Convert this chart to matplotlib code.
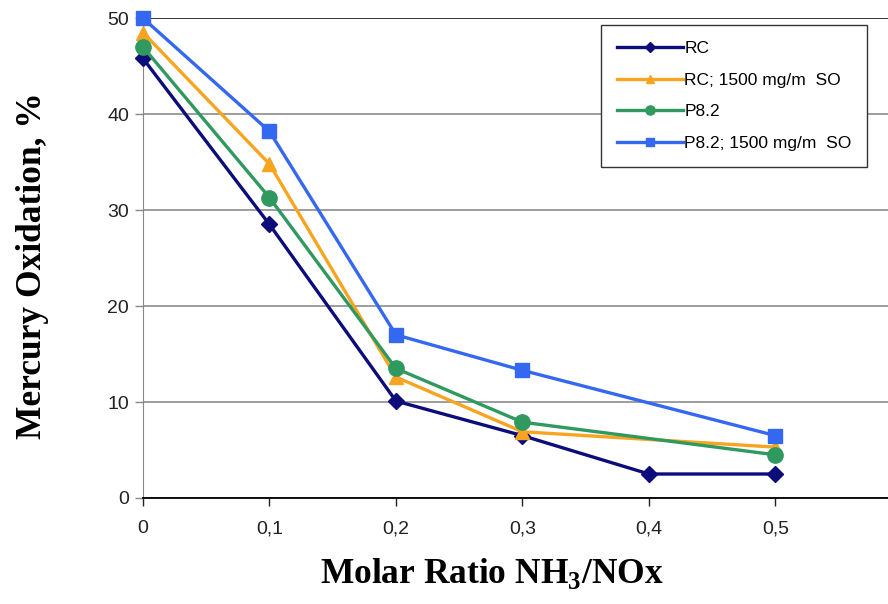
import matplotlib
matplotlib.use("Agg")
import matplotlib.pyplot as plt
import numpy as np

# NH3/NOx molar ratio (category positions)
ratio = [0.0, 0.1, 0.2, 0.3, 0.4, 0.5]
tick_labels = ["0", "0,1", "0,2", "0,3", "0,4", "0,5"]

# mercury oxidation, % (nan = no point, line joins neighbours)
rc = [45.8, 28.5, 10.1, 6.5, 2.5, 2.5]
rc_so2 = [48.5, 34.8, 12.6, 6.9, np.nan, 5.3]
p82 = [47.0, 31.3, 13.5, 7.9, np.nan, 4.5]
p82_so2 = [50.0, 38.2, 17.0, 13.3, np.nan, 6.5]

series = [
    ("RC", rc, "#0c0c7a", "D", 8),
    ("RC; 1500 mg/m  SO", rc_so2, "#f7a520", "^", 10),
    ("P8.2", p82, "#2f9960", "o", 11),
    ("P8.2; 1500 mg/m  SO", p82_so2, "#3468f0", "s", 9.5),
]

plt.rcParams["font.family"] = ["Liberation Sans", "DejaVu Sans"]
plt.rcParams["mathtext.fontset"] = "custom"
plt.rcParams["mathtext.rm"] = "Liberation Serif"
plt.rcParams["mathtext.bf"] = "Liberation Serif:bold"

fig = plt.figure(figsize=(8.88, 6.04), dpi=100)
ax = fig.add_axes([0.161, 0.1755, 0.839, 0.7945])

x = np.array(ratio)
for name, vals, color, marker, ms in series:
    v = np.array(vals, dtype=float)
    ok = ~np.isnan(v)
    ax.plot(x[ok], v[ok], color=color, lw=2.4, marker=marker, ms=ms,
            markeredgecolor=color, label=name, clip_on=False, zorder=3)

ax.set_xlim(0, 0.589)
ax.set_ylim(0, 50)
ax.set_xticks(ratio)
ax.set_xticklabels(tick_labels)
ax.set_yticks(range(0, 51, 10))
ax.tick_params(axis="both", labelsize=14, colors="#222222", length=6, width=1)
ax.tick_params(axis="x", pad=10)
ax.tick_params(axis="y", colors="#888888", labelcolor="#222222", pad=4)
ax.yaxis.grid(True, color="#8c8c8c", lw=1.2)
ax.set_axisbelow(True)
for s in ("top", "right"):
    ax.spines[s].set_visible(False)
ax.spines["left"].set_color("#888888")
ax.spines["bottom"].set_color("black")
ax.spines["bottom"].set_linewidth(1.3)
ax.axhline(50, color="#333333", lw=1.3, zorder=1)

fig.text(0.5535, 0.05, "Molar Ratio NH$_\\mathbf{3}$/NOx", family="Liberation Serif",
         fontweight="bold", fontsize=25.5, ha="center", va="center")
fig.text(0.037, 0.561, "Mercury Oxidation, %", family="Liberation Serif",
         fontweight="bold", fontsize=25.5, ha="center", va="center", rotation=90)

leg = ax.legend(loc="upper left", bbox_to_anchor=(0.615, 0.985), fontsize=12.5,
                frameon=True, fancybox=False, edgecolor="#333333",
                framealpha=1, handlelength=3.8, borderpad=0.9, labelspacing=0.95,
                handletextpad=0.1, borderaxespad=0, markerscale=0.6)
leg.get_frame().set_linewidth(1.0)

fig.savefig("out.png", dpi=100)
